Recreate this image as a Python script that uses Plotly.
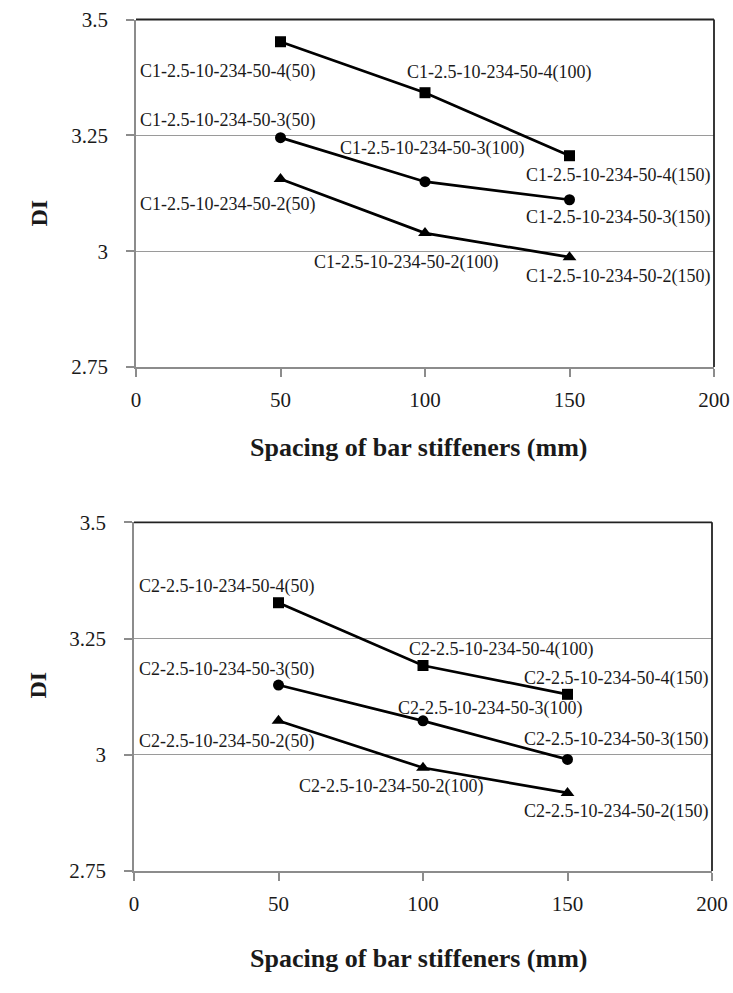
import plotly.graph_objects as go

# ---- data ----
spacing = [50, 100, 150]

c1_4 = [3.452, 3.342, 3.206]
c1_3 = [3.245, 3.150, 3.111]
c1_2 = [3.156, 3.039, 2.987]

c2_4 = [3.327, 3.192, 3.130]
c2_3 = [3.150, 3.073, 2.990]
c2_2 = [3.073, 2.972, 2.918]

c1_names = ["C1-2.5-10-234-50-4", "C1-2.5-10-234-50-3", "C1-2.5-10-234-50-2"]
c2_names = ["C2-2.5-10-234-50-4", "C2-2.5-10-234-50-3", "C2-2.5-10-234-50-2"]

y_ticks = [2.75, 3, 3.25, 3.5]
y_tick_labels = ["2.75", "3", "3.25", "3.5"]
x_ticks = [0, 50, 100, 150, 200]
x_title = "Spacing of bar stiffeners (mm)"
y_title = "DI"

# ---- layout constants ----
W, H = 733, 993
FONT = "Liberation Serif, Times New Roman, serif"
symbols = ["square", "circle", "triangle-up"]
msizes = [11, 11, 12]

# label offsets (px: right, down) for each series / point
off_top = [
    [(-53, 30), (74, -20), (48, 20)],
    [(-53, -17), (7, -33), (48, 18)],
    [(-53, 26), (-19, 29), (48, 19)],
]
off_bot = [
    [(-52, -16), (78, -16), (48, -16)],
    [(-52, -16), (67, -12), (48, -20)],
    [(-52, 21), (-32, 19), (48, 19)],
]

def px_x(p):
    return p / W

def px_y(p):
    return 1 - p / H

fig = go.Figure()

panels = [
    ("x", "y", [c1_4, c1_3, c1_2], c1_names, off_top),
    ("x2", "y2", [c2_4, c2_3, c2_2], c2_names, off_bot),
]

for xa, ya, series, names, offs in panels:
    for i, vals in enumerate(series):
        fig.add_trace(go.Scatter(
            x=spacing, y=vals, xaxis=xa, yaxis=ya,
            mode="lines+markers",
            line=dict(color="black", width=2.7),
            marker=dict(symbol=symbols[i], size=msizes[i], color="black"),
            showlegend=False, hoverinfo="skip", cliponaxis=False,
        ))
        for j, (xv, yv) in enumerate(zip(spacing, vals)):
            dx, dy = offs[i][j]
            fig.add_annotation(
                x=xv, y=yv, xref=xa, yref=ya,
                text=f"{names[i]}({xv})", showarrow=False,
                xshift=dx, yshift=-dy,
                font=dict(family=FONT, size=18, color="#1a1a1a"),
            )

axis_common_x = dict(
    range=[0, 200], tickvals=x_ticks, showgrid=False, zeroline=False,
    showline=True, linecolor="#8c8c8c", linewidth=1.5, automargin=False,
    ticks="outside", ticklen=8, tickcolor="#8c8c8c", tickwidth=1.5,
    ticklabelstandoff=5,
    tickfont=dict(family=FONT, size=21, color="#1a1a1a"),
)
axis_common_y = dict(
    range=[2.75, 3.5], tickvals=y_ticks, ticktext=y_tick_labels,
    showgrid=True, gridcolor="#9a9a9a", gridwidth=1.2, zeroline=False,
    showline=True, linecolor="#8c8c8c", linewidth=1.5, automargin=False,
    ticks="outside", ticklen=8, tickcolor="#8c8c8c", tickwidth=1.5,
    ticklabelstandoff=14,
    tickfont=dict(family=FONT, size=21, color="#1a1a1a"),
)

fig.update_layout(
    width=W, height=H,
    margin=dict(l=0, r=0, t=0, b=0, pad=0),
    paper_bgcolor="white", plot_bgcolor="white",
    xaxis=dict(domain=[px_x(136), px_x(714)], anchor="y", **axis_common_x),
    yaxis=dict(domain=[px_y(367), px_y(19.5)], anchor="x", **axis_common_y),
    xaxis2=dict(domain=[px_x(134), px_x(712)], anchor="y2", **axis_common_x),
    yaxis2=dict(domain=[px_y(871), px_y(522.3)], anchor="x2", **axis_common_y),
)

# top and right border lines (black)
for xa, ya in [("x", "y"), ("x2", "y2")]:
    fig.add_shape(type="line", xref=f"{xa} domain", yref=f"{ya} domain",
                  x0=0, x1=1, y0=1, y1=1, line=dict(color="#222", width=1.8))
    fig.add_shape(type="line", xref=f"{xa} domain", yref=f"{ya} domain",
                  x0=1, x1=1, y0=0, y1=1, line=dict(color="#222", width=1.8))

# axis titles
for cx, cy in [(418, 447), (418, 975)]:
    fig.add_annotation(x=px_x(cx), y=px_y(cy), xref="paper", yref="paper",
                       text=f"<b>{x_title}</b>", showarrow=False,
                       font=dict(family=FONT, size=26, color="#1a1a1a"))
for cx, cy in [(23, 198), (22, 701)]:
    fig.add_annotation(x=px_x(cx), y=px_y(cy), xref="paper", yref="paper",
                       text=f"<b>{y_title}</b>", showarrow=False, textangle=-90,
                       font=dict(family=FONT, size=24, color="#1a1a1a"))

fig.write_html(
    "out.html",
    config={"displayModeBar": False},
    post_script="document.body.style.margin='0';document.body.style.overflow='hidden';",
)
